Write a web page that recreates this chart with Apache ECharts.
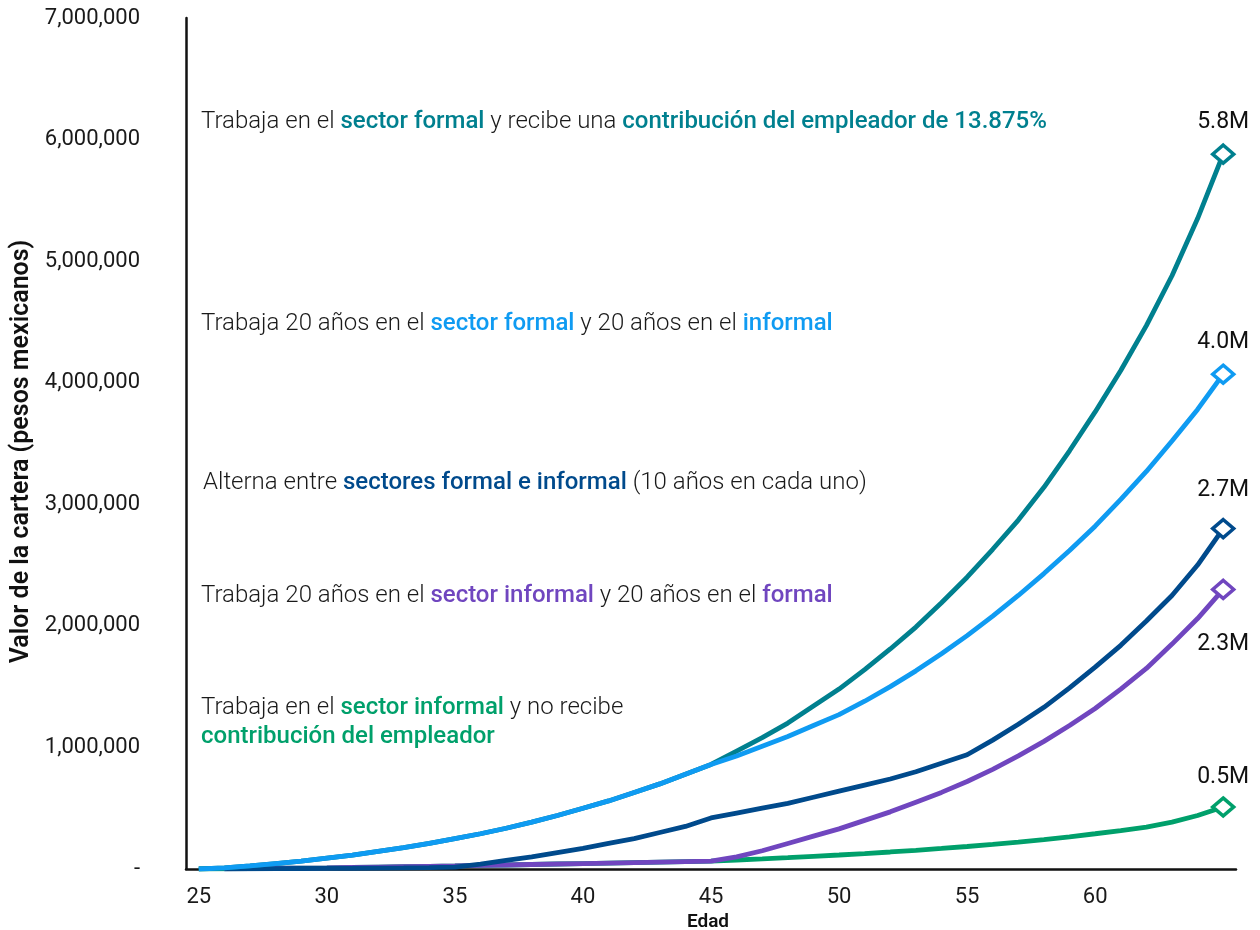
<!DOCTYPE html>
<html>
<head>
<meta charset="utf-8">
<script src="https://cdn.jsdelivr.net/npm/echarts@6/dist/echarts.min.js"></script>
<style>
html,body{margin:0;padding:0;background:#fff;}
#chart{width:1260px;height:930px;}
</style>
</head>
<body>
<div id="chart"></div>
<script>
// ---- data ----
var ages = [25,26,27,28,29,30,31,32,33,34,35,36,37,38,39,40,41,42,43,44,45,
            46,47,48,49,50,51,52,53,54,55,56,57,58,59,60,61,62,63,64,65];
var xTickLabels = [25,30,35,40,45,50,55,60];
var yTickLabels = ['-','1,000,000','2,000,000','3,000,000','4,000,000','5,000,000','6,000,000','7,000,000'];

var formalFull = [0,10000,25000,45000,65000,90000,115000,145000,175000,210000,250000,290000,335000,385000,440000,500000,560000,630000,700000,780000,860000,
  970000,1080000,1200000,1340000,1480000,1640000,1810000,1990000,2190000,2400000,2630000,2870000,3140000,3440000,3760000,4100000,4470000,4880000,5350000,5880000];
var formalThenInformal = [0,10000,25000,45000,65000,90000,115000,145000,175000,210000,250000,290000,335000,385000,440000,500000,560000,630000,700000,780000,860000,
  930000,1010000,1090000,1180000,1270000,1380000,1500000,1630000,1770000,1920000,2080000,2250000,2430000,2620000,2820000,3040000,3270000,3520000,3780000,4070000];
var alternating = [null,1000,2000,3000,4000,5000,6000,8000,10000,12000,15000,40000,70000,100000,135000,170000,210000,250000,300000,350000,420000,
  460000,500000,540000,590000,640000,690000,740000,800000,870000,940000,1060000,1190000,1330000,1490000,1660000,1840000,2040000,2250000,2500000,2800000];
var informalThenFormal = [null,2000,4000,6000,8000,10000,13000,16000,19000,22000,25000,29000,33000,37000,41000,45000,49000,53000,57000,61000,65000,
  100000,150000,210000,270000,330000,400000,470000,550000,630000,720000,820000,930000,1050000,1180000,1320000,1480000,1650000,1850000,2060000,2300000];
var informalFull = [0,2000,4000,6000,8000,10000,13000,16000,19000,22000,25000,29000,33000,37000,41000,45000,49000,53000,57000,61000,65000,
  74000,83000,93000,104000,115000,127000,140000,154000,169000,185000,202000,221000,242000,265000,290000,316000,345000,385000,440000,510000];

var seriesNames = ['Informal','Informal luego formal','Alterna','Formal','Formal luego informal'];
var endLabels = ['0.5M','2.3M','2.7M','5.8M','4.0M'];

// ---- styling ----
var colors = ['#00A06B','#7046BF','#004A8C','#00808F','#0F9BF2'];
var labelPos = [
  {position:'top', distance:8},
  {position:'bottom', distance:33},
  {position:'top', distance:16},
  {position:'top', distance:10},
  {position:'top', distance:10}
];
var values = [informalFull, informalThenFormal, alternating, formalFull, formalThenInformal];

var chart = echarts.init(document.getElementById('chart'), null, {renderer:'canvas'});
var last = ages.length - 1;
var FONT = 'Roboto';

function buildSeries(i){
  return {
    name: seriesNames[i],
    type: 'line',
    data: values[i].map(function(v, idx){
      if (idx !== last) return v;
      return {
        value: v,
        symbol: 'diamond',
        symbolSize: [21, 18],
        itemStyle: {color: '#ffffff', borderColor: colors[i], borderWidth: 3.5},
        label: {
          show: true,
          position: labelPos[i].position,
          distance: labelPos[i].distance,
          formatter: endLabels[i],
          color: '#111',
          fontFamily: FONT,
          fontSize: 23
        }
      };
    }),
    symbol: 'none',
    showAllSymbol: true,
    connectNulls: false,
    lineStyle: {color: colors[i], width: 4.8},
    itemStyle: {color: colors[i]},
    emphasis: {disabled: true},
    z: 2 + i
  };
}

var dark = '#1a1a1a';
var FS = 24;
var richStyles = {
  n: {fontFamily: FONT, fontSize: FS, fill: dark, fontWeight: 300},
  t: {fontFamily: FONT, fontSize: FS, fill: colors[3], fontWeight: 500},
  lb: {fontFamily: FONT, fontSize: FS, fill: colors[4], fontWeight: 500},
  db: {fontFamily: FONT, fontSize: FS, fill: colors[2], fontWeight: 500},
  p: {fontFamily: FONT, fontSize: FS, fill: colors[1], fontWeight: 500},
  g: {fontFamily: FONT, fontSize: FS, fill: colors[0], fontWeight: 500}
};
function richBlock(parts, x, y){
  return {
    type: 'text',
    left: x,
    top: y,
    style: {
      text: parts.map(function(p){ return '{' + p[1] + '|' + p[0] + '}'; }).join(''),
      rich: richStyles,
      fill: dark,
      fontFamily: FONT,
      fontSize: FS
    },
    z: 10
  };
}

var option = {
  animation: false,
  backgroundColor: '#ffffff',
  grid: {left: 186, right: 24, top: 18, bottom: 61, outerBoundsMode: 'none', containLabel: false},
  xAxis: {
    type: 'category',
    data: ages,
    boundaryGap: true,
    name: 'Edad',
    nameLocation: 'middle',
    nameGap: 43,
    nameTextStyle: {fontFamily: FONT, fontSize: 19, fontWeight: 600, color: '#111', padding: [0, 6, 0, 0]},
    axisLine: {lineStyle: {color: '#111', width: 2.5}},
    axisTick: {show: false},
    splitLine: {show: false},
    axisLabel: {
      interval: function(idx, val){ return xTickLabels.indexOf(Number(val)) >= 0; },
      margin: 17,
      fontFamily: FONT,
      fontSize: 22,
      color: dark
    }
  },
  yAxis: {
    type: 'value',
    min: 0,
    max: 7000000,
    interval: 1000000,
    name: 'Valor de la cartera (pesos mexicanos)',
    nameLocation: 'middle',
    nameGap: 148,
    nameTextStyle: {fontFamily: FONT, fontSize: 25, fontWeight: 600, color: '#111', padding: [0, 16, 0, 0]},
    axisLine: {show: true, lineStyle: {color: '#111', width: 2.5}},
    axisTick: {show: false},
    splitLine: {show: false},
    axisLabel: {
      margin: 46,
      fontFamily: FONT,
      fontSize: 22,
      color: dark,
      formatter: function(v){ return yTickLabels[Math.round(v / 1000000)]; }
    }
  },
  graphic: [
    richBlock([['Trabaja en el ','n'],['sector formal','t'],[' y recibe una ','n'],['contribución del empleador de 13.875%','t']], 201, 110),
    richBlock([['Trabaja 20 años en el ','n'],['sector formal','lb'],[' y 20 años en el ','n'],['informal','lb']], 201, 312),
    richBlock([['Alterna entre ','n'],['sectores formal e informal','db'],[' (10 años en cada uno)','n']], 203, 471),
    richBlock([['Trabaja 20 años en el ','n'],['sector informal','p'],[' y 20 años en el ','n'],['formal','p']], 201, 584),
    richBlock([['Trabaja en el ','n'],['sector informal','g'],[' y no recibe','n']], 201, 696),
    richBlock([['contribución del empleador','g']], 201, 725)
  ],
  series: [0,1,2,3,4].map(buildSeries)
};
chart.setOption(option);
</script>
</body>
</html>
